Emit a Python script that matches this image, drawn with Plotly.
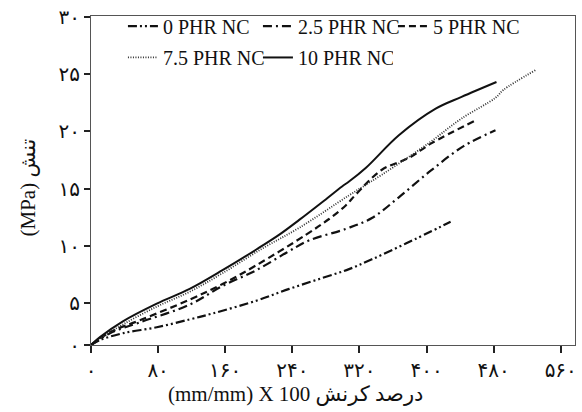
import plotly.graph_objects as go

# ---- data (strain %, stress MPa) ----
x_0 = [0, 10.7, 38.0, 78.4, 117.6, 144.9, 197.1, 236.3, 275.5, 307.6, 334.9, 375.3, 428.7]
y_0 = [1.3, 1.73, 2.33, 2.85, 3.54, 4.06, 5.18, 6.21, 7.16, 7.94, 8.8, 10.18, 12.08]

x_25 = [0, 22.6, 58.2, 117.6, 156.8, 197.1, 233.4, 259.5, 304.0, 334.9, 367.0, 405.0, 444.2, 482.2]
y_25 = [1.3, 2.33, 3.28, 4.83, 6.47, 7.85, 9.40, 10.44, 11.47, 12.42, 14.23, 16.56, 18.71, 20.09]

x_5 = [0, 22.6, 58.2, 117.6, 156.8, 197.1, 256.5, 283.8, 304.0, 315.9, 346.8, 378.9, 406.2, 458.4]
y_5 = [1.3, 2.42, 3.46, 5.27, 6.64, 8.28, 10.96, 12.33, 13.54, 14.49, 16.64, 17.68, 18.97, 20.96]

x_75 = [0, 10.7, 38.0, 78.4, 117.6, 156.8, 204.3, 248.2, 307.6, 346.8, 402.6, 441.8, 482.2, 491.7, 529.7]
y_75 = [1.3, 1.9, 3.1, 4.66, 5.96, 7.59, 9.75, 11.56, 14.4, 16.21, 18.97, 21.13, 22.94, 23.63, 25.35]

x_10 = [0, 10.7, 38.0, 78.4, 117.6, 156.8, 197.1, 224.5, 248.2, 275.5, 299.3, 307.6, 327.8, 367.0, 410.9, 441.8, 483.4]
y_10 = [1.3, 1.99, 3.37, 4.92, 6.21, 7.85, 9.66, 10.96, 12.25, 13.8, 15.18, 15.61, 16.82, 19.66, 21.99, 23.02, 24.32]

series_names = ["0 PHR NC", "2.5 PHR NC", "5 PHR NC", "7.5 PHR NC", "10 PHR NC"]

x_tickvals = [0, 80, 160, 240, 320, 400, 480, 560]
x_ticktext = ["۰", "۸۰", "۱۶۰", "۲۴۰", "۳۲۰", "۴۰۰", "۴۸۰", "۵۶۰"]
y_tickvals = [1.3, 5, 10, 15, 20, 25, 30]
y_ticktext = ["۰", "۵", "۱۰", "۱۵", "۲۰", "۲۵", "۳۰"]

x_title = "(mm/mm) X 100 درصد کرنش"
y_title = "(MPa) تنش"

FONT = "Liberation Serif, DejaVu Sans, serif"

fig = go.Figure()

styles = [
    (x_0, y_0, dict(color="#111", width=2.2, dash="9px,3px,2px,3px,2px,3px"), "legend"),
    (x_25, y_25, dict(color="#111", width=2.2, dash="9px,4px,2px,4px"), "legend"),
    (x_5, y_5, dict(color="#111", width=2.2, dash="7px,4px"), "legend"),
    (x_75, y_75, dict(color="#333", width=1.8, dash="1px,1.5px"), "legend2"),
    (x_10, y_10, dict(color="#111", width=2), "legend2"),
]
for (xs, ys, ln, lg), name in zip(styles, series_names):
    fig.add_trace(go.Scatter(x=xs, y=ys, mode="lines", name=name, line=ln,
                             legend=lg, line_shape="spline"))

legend_common = dict(orientation="h", xanchor="left", yanchor="middle",
                     bgcolor="rgba(0,0,0,0)", borderwidth=0,
                     font=dict(family=FONT, size=20, color="#111"),
                     entrywidth=90, entrywidthmode="pixels", itemwidth=30)

fig.update_layout(
    width=582, height=412,
    margin=dict(l=91, r=5, t=11, b=67),
    paper_bgcolor="white", plot_bgcolor="white",
    font=dict(family=FONT, color="#111"),
    showlegend=True,
    legend=dict(x=0.066, y=0.969, **legend_common),
    legend2=dict(x=0.066, y=0.874, **legend_common),
    xaxis=dict(range=[0, 577], tickvals=x_tickvals, ticktext=x_ticktext,
               ticks="outside", ticklen=7, tickwidth=1.5, tickcolor="#222",
               showline=True, linecolor="#555", linewidth=1, mirror=True,
               showgrid=False, zeroline=False,
               tickfont=dict(family="DejaVu Sans", size=20, color="#111")),
    yaxis=dict(range=[1.3, 30.1], tickvals=y_tickvals, ticktext=y_ticktext,
               ticks="outside", ticklen=6, tickwidth=1.5, tickcolor="#222",
               showline=True, linecolor="#555", linewidth=1, mirror=True,
               showgrid=False, zeroline=False,
               tickfont=dict(family="DejaVu Sans", size=20, color="#111")),
    annotations=[
        dict(text=x_title, xref="paper", yref="paper", x=0.422, y=-0.15,
             xanchor="center", yanchor="middle", showarrow=False,
             font=dict(family=FONT, size=21, color="#111")),
        dict(text=y_title, xref="paper", yref="paper", x=-0.13, y=0.479,
             xanchor="center", yanchor="middle", showarrow=False, textangle=-90,
             font=dict(family=FONT, size=21, color="#111")),
    ],
)

fig.write_html("out.html", config={"displayModeBar": False},
               post_script="document.body.style.margin='0';document.body.style.overflow='hidden';")
